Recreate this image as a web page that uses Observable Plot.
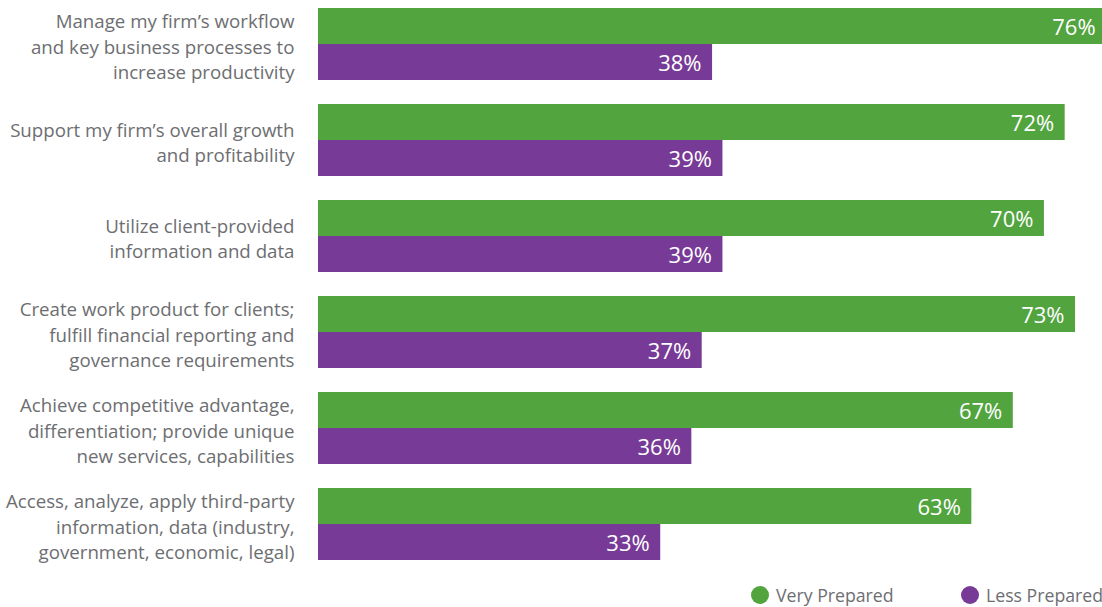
<!DOCTYPE html>
<html><head>
<meta charset="utf-8">
<script src="https://cdn.jsdelivr.net/npm/d3@7"></script>
<script src="https://cdn.jsdelivr.net/npm/@observablehq/plot@0.6"></script>
<style>
body{margin:0;background:#fff;font-family:"Open Sans",sans-serif;}
#legend{display:flex;height:29px;align-items:center;font-size:17.7px;color:#6d6e71;position:relative;}
.item{position:absolute;display:flex;align-items:center;white-space:nowrap;top:5px;}
.dot{width:18px;height:18px;border-radius:50%;margin-right:7px;display:inline-block;}
</style>
</head><body>
<div id="chart"></div>
<div id="legend"></div>
<script>
const categories = [
  "Manage my firm’s workflow\nand key business processes to\nincrease productivity",
  "Support my firm’s overall growth\nand profitability",
  "Utilize client-provided\ninformation and data",
  "Create work product for clients;\nfulfill financial reporting and\ngovernance requirements",
  "Achieve competitive advantage,\ndifferentiation; provide unique\nnew services, capabilities",
  "Access, analyze, apply third-party\ninformation, data (industry,\ngovernment, economic, legal)"
];
const series = ["Very Prepared", "Less Prepared"];
const veryPrepared = [76, 72, 70, 73, 67, 63];
const lessPrepared = [38, 39, 39, 37, 36, 33];
const colors = ["#52a43f", "#773b97"];

const data = categories.flatMap((c, i) => [
  {category: c, series: series[0], value: veryPrepared[i]},
  {category: c, series: series[1], value: lessPrepared[i]}
]);

const plot = Plot.plot({
  width: 1102,
  height: 578,
  marginLeft: 318,
  marginRight: 0,
  marginTop: 7,
  marginBottom: 18,
  style: {fontFamily: "Open Sans", background: "white"},
  x: {domain: [0, 75.6], axis: null},
  fy: {domain: categories, paddingInner: 0.25, paddingOuter: 0, label: null},
  y: {domain: series, padding: 0, axis: null},
  color: {domain: series, range: colors},
  marks: [
    Plot.barX(data, {fy: "category", y: "series", x: "value", fill: "series", clip: true}),
    Plot.text(data, {fy: "category", y: "series", x: "value", text: d => d.value + "%", textAnchor: "end", dx: -11, dy: 1, fill: "white", fontSize: 22}),
    Plot.axisFy({anchor: "left", tickSize: 0, tickPadding: 24, fontSize: 18.7, lineHeight: 1.34, fill: "#6d6e71", label: null, dy: 1})
  ]
});
document.getElementById("chart").appendChild(plot);

const legend = document.getElementById("legend");
const lx = [751, 961];
series.forEach((s, i) => {
  const it = document.createElement("div");
  it.className = "item";
  it.style.left = lx[i] + "px";
  it.innerHTML = `<span class="dot" style="background:${colors[i]}"></span>${s}`;
  legend.appendChild(it);
});
</script>
</body></html>
